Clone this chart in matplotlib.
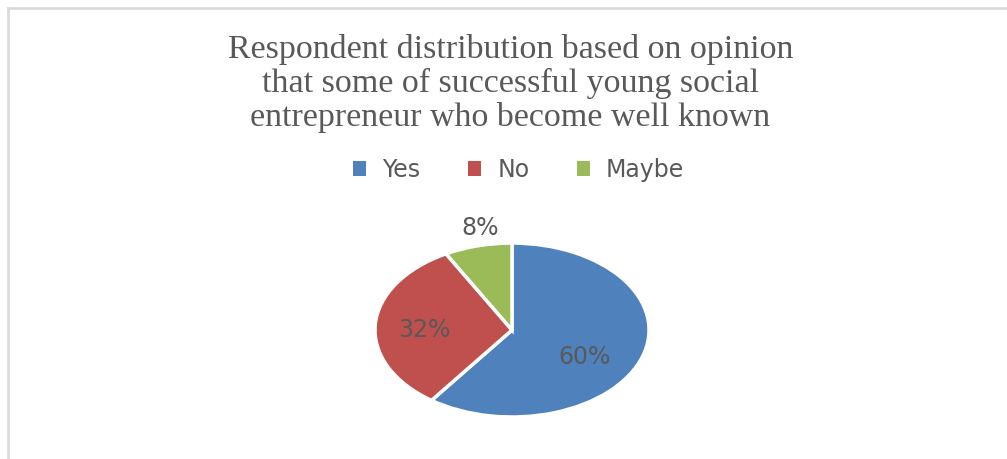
import matplotlib.pyplot as plt
from matplotlib.lines import Line2D
from matplotlib.patches import Patch

# Survey answers and their shares (percent)
answers = ['Yes', 'No', 'Maybe']
shares = [60, 32, 8]
colors = ['#4F81BD', '#C0504D', '#9BBB59']

title = ('Respondent distribution based on opinion\n'
         'that some of successful young social\n'
         'entrepreneur who become well known')

text_gray = '#595959'

fig = plt.figure(figsize=(10.07, 4.59), dpi=100)

# frame lines along the top and left edge
fig.add_artist(Line2D([0.0084, 1.0], [0.9815, 0.9815], color='#D9D9D9', lw=1.9))
fig.add_artist(Line2D([0.0084, 0.0084], [0.0, 0.9815], color='#D9D9D9', lw=1.9))

fig.text(0.507, 0.818, title, ha='center', va='center', fontsize=24.5,
         family='Liberation Serif', color=text_gray, linespacing=1.12)

# pie axes is stretched sideways, so the pie comes out as an ellipse
ax = fig.add_axes([0.3724, 0.0915, 0.2721, 0.379])
wedges, _, pct_texts = ax.pie(shares, colors=colors, startangle=90, counterclock=False,
                              autopct='%1.0f%%',
                              wedgeprops=dict(edgecolor='white', linewidth=2.5),
                              textprops=dict(color=text_gray, fontsize=17, family='DejaVu Sans'))
ax.set_aspect('auto')
ax.set_xlim(-1, 1)
ax.set_ylim(-1, 1)

label_pos = [(0.53, -0.31), (-0.64, 0.0), (-0.23, 1.17)]
for t, (x, y) in zip(pct_texts, label_pos):
    t.set_position((x, y))
    t.set_ha('center')
    t.set_va('center')

handles = [Patch(facecolor=c, edgecolor='none') for c in colors]
fig.legend(handles, answers, loc='center', bbox_to_anchor=(0.515, 0.63), ncol=3,
           frameon=False, handlelength=0.55, handleheight=0.55, handletextpad=0.7,
           columnspacing=2.0, prop=dict(family='DejaVu Sans', size=17),
           labelcolor=text_gray)

fig.savefig('out.png', dpi=100)
